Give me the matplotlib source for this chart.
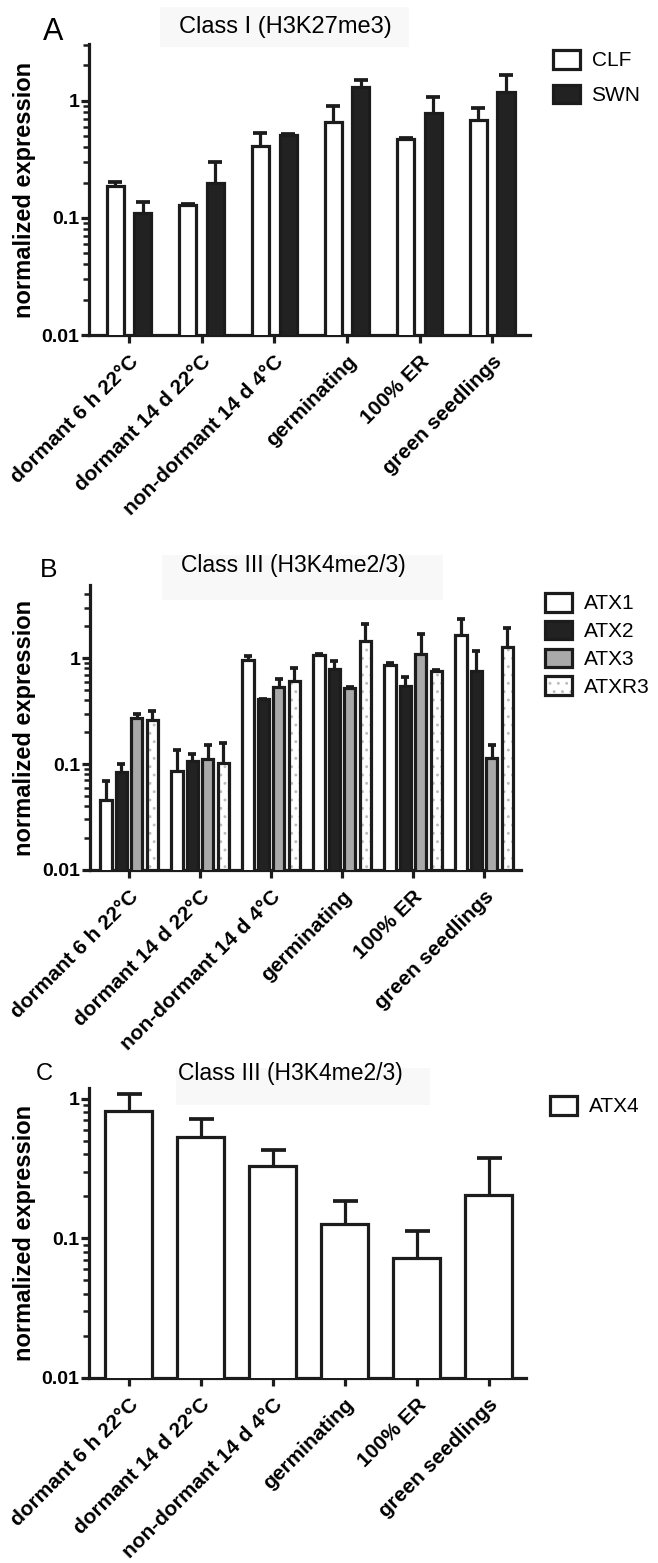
import numpy as np
import matplotlib
matplotlib.use("Agg")
import matplotlib.pyplot as plt
from matplotlib.patches import Patch, Rectangle
from matplotlib.ticker import FixedLocator, LogLocator, NullFormatter
from matplotlib.transforms import ScaledTranslation

plt.rcParams['font.family'] = ['Liberation Sans', 'DejaVu Sans']
plt.rcParams['hatch.linewidth'] = 0.9

W, H, DPI = 658, 1563, 100

conditions = ["dormant 6 h 22°C", "dormant 14 d 22°C", "non-dormant 14 d 4°C",
              "germinating", "100% ER", "green seedlings"]

# A - class I (H3K27me3): mean and top of error bar
clf = [0.188, 0.129, 0.41, 0.66, 0.467, 0.68]
clf_top = [0.203, 0.131, 0.526, 0.905, 0.48, 0.86]
swn = [0.110, 0.20, 0.51, 1.32, 0.79, 1.18]
swn_top = [0.137, 0.30, 0.52, 1.51, 1.08, 1.67]

# B - class III (H3K4me2/3)
atx1 = [0.046, 0.086, 0.96, 1.07, 0.865, 1.66]
atx1_top = [0.069, 0.135, 1.05, 1.09, 0.90, 2.35]
atx2 = [0.084, 0.107, 0.41, 0.79, 0.54, 0.76]
atx2_top = [0.100, 0.125, 0.415, 0.93, 0.66, 1.16]
atx3 = [0.27, 0.111, 0.53, 0.52, 1.10, 0.114]
atx3_top = [0.30, 0.152, 0.63, 0.535, 1.70, 0.152]
atxr3 = [0.26, 0.102, 0.61, 1.44, 0.75, 1.26]
atxr3_top = [0.32, 0.158, 0.80, 2.10, 0.77, 1.92]

# C - ATX4
atx4 = [0.81, 0.53, 0.33, 0.127, 0.072, 0.205]
atx4_top = [1.08, 0.71, 0.43, 0.186, 0.112, 0.375]

EDGE = '#1c1c1c'
DARK = '#222222'
GRAY = '#a9a9a9'
LW = 2.3

fig = plt.figure(figsize=(W / DPI, H / DPI), dpi=DPI)


def px_axes(left, top, right, bottom):
    return fig.add_axes([left / W, 1 - bottom / H, (right - left) / W, (bottom - top) / H])


def style(ax, ytop, left, width):
    ax.set_yscale('log')
    ax.set_ylim(0.01, ytop)
    ax.set_xlim(-0.55, 5.52)
    for s in ['top', 'right']:
        ax.spines[s].set_visible(False)
    for s in ['left', 'bottom']:
        ax.spines[s].set_linewidth(LW)
        ax.spines[s].set_color(EDGE)
    ax.yaxis.set_major_locator(FixedLocator([0.01, 0.1, 1]))
    ax.set_yticks([0.01, 0.1, 1], labels=['0.01', '0.1', '1'], fontweight='bold', fontsize=14)
    ax.yaxis.set_minor_locator(LogLocator(base=10, subs=np.arange(2, 10), numticks=20))
    ax.yaxis.set_minor_formatter(NullFormatter())
    ax.tick_params(axis='y', which='major', length=6, width=LW, pad=1, color=EDGE)
    ax.tick_params(axis='y', which='minor', length=4, width=1.8, color=EDGE)
    ax.set_xticks(range(len(conditions)))
    ax.set_xticklabels(conditions, rotation=45, ha='right', rotation_mode='anchor',
                       fontsize=15, fontweight='bold')
    shift = ScaledTranslation(0.07, 0.0, fig.dpi_scale_trans)
    for lab in ax.get_xticklabels():
        lab.set_transform(lab.get_transform() + shift)
    ax.tick_params(axis='x', length=6, width=LW, pad=6, color=EDGE)
    ax.set_ylabel('normalized expression', fontsize=17, fontweight='bold')
    ax.yaxis.set_label_coords((36 - left) / width, 0.5)


def bars(ax, x, vals, tops, width, color, capsize, hatch=None):
    vals = np.array(vals)
    tops = np.array(tops)
    if hatch:
        ax.bar(x, vals, width, color='white', edgecolor='#bdbdbd', hatch=hatch, linewidth=0, zorder=2)
        ax.bar(x, vals, width, fill=False, edgecolor=EDGE, linewidth=LW, zorder=3)
    else:
        ax.bar(x, vals, width, color=color, edgecolor=EDGE, linewidth=LW, zorder=3)
    _, caps, _ = ax.errorbar(x, vals, yerr=[np.zeros_like(vals), tops - vals], fmt='none',
                             ecolor=EDGE, elinewidth=LW, capsize=capsize, capthick=LW + 0.4, zorder=4)
    for c in caps:
        if np.allclose(c.get_ydata(), vals):
            c.set_visible(False)


def title_box(x0, y0, x1, y1, cx, base, text, size):
    fig.patches.append(Rectangle((x0 / W, 1 - y1 / H), (x1 - x0) / W, (y1 - y0) / H,
                                 transform=fig.transFigure, facecolor='#f8f8f8',
                                 edgecolor='none', zorder=0))
    fig.text(cx / W, 1 - base / H, text, ha='center', va='baseline', fontsize=size)


def legend(handles, labels, x, y, spacing):
    fig.legend(handles, labels, loc='upper left', bbox_to_anchor=(x / W, 1 - y / H),
               frameon=False, fontsize=15, handlelength=1.3, handleheight=1.0,
               handletextpad=0.55, labelspacing=spacing, borderpad=0, borderaxespad=0)


x = np.arange(len(conditions))

# ---- panel A
axA = px_axes(89, 44, 530, 335)
style(axA, 3.05, 89, 441)
bars(axA, x - 0.19, clf, clf_top, 0.235, 'white', 5)
bars(axA, x + 0.19, swn, swn_top, 0.235, DARK, 5)
title_box(160, 7, 409, 47, 285, 33, 'Class I (H3K27me3)', 17)
fig.text(43 / W, 1 - 40 / H, 'A', fontsize=22, va='baseline')
legend([Patch(facecolor='white', edgecolor=EDGE, linewidth=LW),
        Patch(facecolor=DARK, edgecolor=EDGE, linewidth=LW)],
       ['CLF', 'SWN'], 553, 50, 0.68)

# ---- panel B
axB = px_axes(90, 585, 521, 870)
style(axB, 4.9, 90, 431)
step = 0.218
bars(axB, x - 1.5 * step, atx1, atx1_top, 0.16, 'white', 3.2)
bars(axB, x - 0.5 * step, atx2, atx2_top, 0.16, DARK, 3.2)
bars(axB, x + 0.5 * step, atx3, atx3_top, 0.16, GRAY, 3.2)
bars(axB, x + 1.5 * step, atxr3, atxr3_top, 0.16, 'white', 3.2, hatch='..')
title_box(162, 555, 443, 600, 293, 572, 'Class III (H3K4me2/3)', 16.5)
fig.text(40 / W, 1 - 577 / H, 'B', fontsize=19, va='baseline')
legend([Patch(facecolor='white', edgecolor=EDGE, linewidth=LW),
        Patch(facecolor=DARK, edgecolor=EDGE, linewidth=LW),
        Patch(facecolor=GRAY, edgecolor=EDGE, linewidth=LW),
        (Patch(facecolor='white', edgecolor='#bdbdbd', hatch='..', linewidth=0),
         Patch(fill=False, edgecolor=EDGE, linewidth=LW))],
       ['ATX1', 'ATX2', 'ATX3', 'ATXR3'], 545, 593, 0.35)

# ---- panel C
axC = px_axes(89, 1088, 526, 1378)
style(axC, 1.19, 89, 437)
bars(axC, x, atx4, atx4_top, 0.65, 'white', 9)
title_box(176, 1068, 430, 1105, 290, 1080, 'Class III (H3K4me2/3)', 16.5)
fig.text(36 / W, 1 - 1080 / H, 'C', fontsize=17, va='baseline')
legend([Patch(facecolor='white', edgecolor=EDGE, linewidth=LW)], ['ATX4'], 550, 1096, 0.35)

fig.savefig('out.png', dpi=DPI)
